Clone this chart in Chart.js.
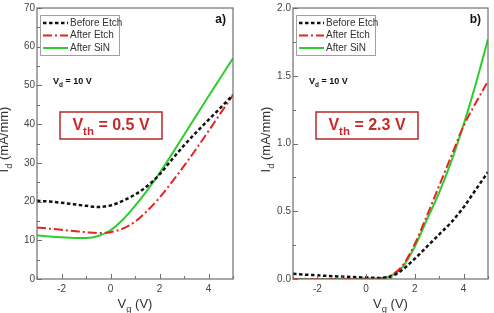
<!DOCTYPE html>
<html>
<head>
<meta charset="utf-8">
<script src="https://cdn.jsdelivr.net/npm/chart.js@4.4.0/dist/chart.umd.min.js"></script>
<style>
    body { margin: 0; background: #fff; }
    #wrap { position: relative; width: 494px; height: 313px; }
    canvas { position: absolute; top: 0; }
</style>
</head>
<body>
<div id="wrap">
    <canvas id="chartA" width="247" height="313" style="left:0"></canvas>
    <canvas id="chartB" width="247" height="313" style="left:247px"></canvas>
</div>
<script>
// gate voltage (V)
var vg = [-3, -2.5, -2, -1.5, -1, -0.5, 0, 0.5, 1, 1.5, 2, 2.5, 3, 3.5, 4, 4.5, 5]

// panel a) drain current (mA/mm)
var beforeEtchA = [20.2, 20.0, 19.7, 19.3, 18.9, 18.6, 19.0, 20.2, 21.8, 24.0, 27.0, 30.8, 34.5, 37.9, 41.1, 44.3, 47.5]
var afterEtchA = [13.3, 13.0, 12.7, 12.4, 12.1, 11.9, 12.1, 13.0, 14.8, 17.6, 21.0, 25.0, 29.2, 33.6, 38.2, 42.9, 47.5]
var afterSinA = [11.3, 11.0, 10.8, 10.6, 10.6, 11.1, 12.6, 15.3, 18.9, 22.9, 27.3, 32.2, 37.2, 42.2, 47.2, 52.1, 57.0]

// panel b) drain current (mA/mm)
var beforeEtchB = [0.038, 0.032, 0.027, 0.022, 0.018, 0.014, 0.011, 0.008, 0.016, 0.07, 0.15, 0.24, 0.33, 0.42, 0.53, 0.66, 0.79]
var afterEtchB = [0, 0, 0, 0, 0, 0, 0.002, 0.004, 0.025, 0.10, 0.26, 0.47, 0.69, 0.91, 1.13, 1.30, 1.46]
var afterSinB = [0, 0, 0, 0, 0, 0, 0.001, 0.004, 0.022, 0.09, 0.24, 0.44, 0.64, 0.87, 1.14, 1.44, 1.77]

var seriesNames = ["Before Etch", "After Etch", "After SiN"]
var xTicksA = { min: -3, max: 5, step: 1, major: 2 }
var yTicksA = { min: 0, max: 70, step: 5, major: 10 }
var yTicksB = { min: 0, max: 2, step: 0.25, major: 0.5 }

const FONT = "'Liberation Sans', Arial, sans-serif"
const AXIS_COLOR = '#6f6f6f'
const RED_TEXT = '#c62a2a'

function toPoints(ys) {
    return vg.map((x, i) => ({ x: x, y: ys[i] }))
}

function makeDatasets(before, afterEtch, afterSin) {
    return [
        { label: seriesNames[0], data: toPoints(before), borderColor: '#111', borderWidth: 2.5, borderDash: [3.5, 2.5] },
        { label: seriesNames[1], data: toPoints(afterEtch), borderColor: '#e62222', borderWidth: 2, borderDash: [9, 3, 2, 3] },
        { label: seriesNames[2], data: toPoints(afterSin), borderColor: '#2ecc2e', borderWidth: 2 }
    ]
}

function isMajor(value, major) {
    let r = value / major
    return Math.abs(r - Math.round(r)) < 1e-6
}

// draws text made of [text, isSub] pieces, centred or left aligned at x
function drawSubText(ctx, parts, x, y, size, bold, align) {
    let weight = bold ? 'bold ' : ''
    let widths = parts.map(p => {
        ctx.font = weight + (p[1] ? size * 0.72 : size) + 'px ' + FONT
        return ctx.measureText(p[0]).width
    })
    let total = widths.reduce((a, b) => a + b, 0)
    let cx = align == 'center' ? x - total / 2 : x
    ctx.textAlign = 'left'
    ctx.textBaseline = 'alphabetic'
    parts.forEach((p, i) => {
        ctx.font = weight + (p[1] ? size * 0.72 : size) + 'px ' + FONT
        ctx.fillText(p[0], cx, p[1] ? y + size * 0.3 : y)
        cx += widths[i]
    })
}

const decorPlugin = {
    id: 'decor',
    afterDraw(chart, args, opts) {
        const ctx = chart.ctx
        const area = chart.chartArea
        const xs = chart.scales.x
        const ys = chart.scales.y
        ctx.save()

        // frame
        ctx.strokeStyle = AXIS_COLOR
        ctx.lineWidth = 1.2
        ctx.strokeRect(area.left, area.top, area.right - area.left, area.bottom - area.top)

        // inward ticks, left and bottom only
        ctx.lineWidth = 1
        ctx.beginPath()
        xs.ticks.forEach(t => {
            let px = Math.round(xs.getPixelForValue(t.value)) + 0.5
            let len = isMajor(t.value, opts.xMajor) ? 5 : 3
            ctx.moveTo(px, area.bottom)
            ctx.lineTo(px, area.bottom - len)
        })
        ys.ticks.forEach(t => {
            let py = Math.round(ys.getPixelForValue(t.value)) + 0.5
            let len = isMajor(t.value, opts.yMajor) ? 5 : 3
            ctx.moveTo(area.left, py)
            ctx.lineTo(area.left + len, py)
        })
        ctx.stroke()

        // legend box
        let lx = area.left + 3, ly = area.top + 7
        ctx.fillStyle = '#fff'
        ctx.fillRect(lx, ly, 79, 40)
        ctx.strokeStyle = '#a0a0a0'
        ctx.lineWidth = 1
        ctx.strokeRect(lx + 0.5, ly + 0.5, 79, 40)
        chart.data.datasets.forEach((ds, i) => {
            let rowY = ly + 8 + i * 12.5
            ctx.beginPath()
            ctx.strokeStyle = ds.borderColor
            ctx.lineWidth = ds.borderWidth
            ctx.setLineDash(ds.borderDash || [])
            ctx.moveTo(lx + 3, rowY)
            ctx.lineTo(lx + 28, rowY)
            ctx.stroke()
            ctx.setLineDash([])
            ctx.fillStyle = '#333'
            ctx.font = '10px ' + FONT
            ctx.textAlign = 'left'
            ctx.textBaseline = 'middle'
            ctx.fillText(ds.label, lx + 30, rowY)
        })

        // panel tag
        ctx.fillStyle = '#111'
        ctx.font = 'bold 12px ' + FONT
        ctx.textAlign = 'right'
        ctx.textBaseline = 'alphabetic'
        ctx.fillText(opts.tag, area.right - 7, area.top + 15)

        // drain voltage note
        ctx.fillStyle = '#111'
        drawSubText(ctx, [['V', false], ['d', true], [' = 10 V', false]], area.left + 16, area.top + 76, 9, true, 'left')

        // threshold voltage box
        let bx = area.left + 23, by = area.top + 104
        ctx.fillStyle = '#fff'
        ctx.fillRect(bx, by, 102, 27)
        ctx.strokeStyle = '#b52a2a'
        ctx.lineWidth = 1.5
        ctx.strokeRect(bx, by, 102, 27)
        ctx.fillStyle = RED_TEXT
        drawSubText(ctx, [['V', false], ['th', true], [' = ' + opts.vth, false]], bx + 51, by + 18, 16, true, 'center')

        // axis titles
        ctx.fillStyle = '#333'
        drawSubText(ctx, [['V', false], ['g', true], [' (V)', false]], (area.left + area.right) / 2, 308, 13, false, 'center')
        ctx.translate(area.left + opts.yTitleOffset, (area.top + area.bottom) / 2 - 4)
        ctx.rotate(-Math.PI / 2)
        drawSubText(ctx, [['I', false], ['d', true], [' (mA/mm)', false]], 0, 0, 13, false, 'center')

        ctx.restore()
    }
}

function createPanel(canvasId, datasets, yTicks, yLeft, rightPad, decor) {
    const chartConfig = {
        type: 'line',
        data: { datasets: datasets },
        options: {
            responsive: false,
            animation: false,
            layout: { padding: { top: 8, right: rightPad, left: 0, bottom: 0 } },
            elements: {
                point: { radius: 0 },
                line: { cubicInterpolationMode: 'monotone', fill: false }
            },
            plugins: {
                legend: { display: false },
                tooltip: { enabled: false },
                decor: decor
            },
            scales: {
                x: {
                    type: 'linear',
                    min: xTicksA.min,
                    max: xTicksA.max,
                    grid: { display: false, drawTicks: false, tickLength: 0 },
                    border: { display: false },
                    afterFit: s => { s.height = 34 },
                    ticks: {
                        stepSize: xTicksA.step,
                        padding: 4,
                        color: '#444',
                        font: { family: FONT, size: 10 },
                        maxRotation: 0,
                        autoSkip: false,
                        callback: v => isMajor(v, xTicksA.major) ? String(v) : ''
                    }
                },
                y: {
                    min: yTicks.min,
                    max: yTicks.max,
                    grid: { display: false, drawTicks: false, tickLength: 0 },
                    border: { display: false },
                    afterFit: s => { s.width = yLeft },
                    ticks: {
                        stepSize: yTicks.step,
                        padding: 2,
                        color: '#444',
                        font: { family: FONT, size: 10 },
                        autoSkip: false,
                        callback: v => isMajor(v, yTicks.major) ? (yTicks.major < 1 ? v.toFixed(1) : String(v)) : ''
                    }
                }
            }
        },
        plugins: [decorPlugin]
    }
    return new Chart(document.getElementById(canvasId), chartConfig)
}

createPanel('chartA', makeDatasets(beforeEtchA, afterEtchA, afterSinA), yTicksA, 37, 14,
    { tag: 'a)', vth: '0.5 V', xMajor: 2, yMajor: 10, yTitleOffset: -29 })
createPanel('chartB', makeDatasets(beforeEtchB, afterEtchB, afterSinB), yTicksB, 46, 6,
    { tag: 'b)', vth: '2.3 V', xMajor: 2, yMajor: 0.5, yTitleOffset: -23 })
</script>
</body>
</html>
